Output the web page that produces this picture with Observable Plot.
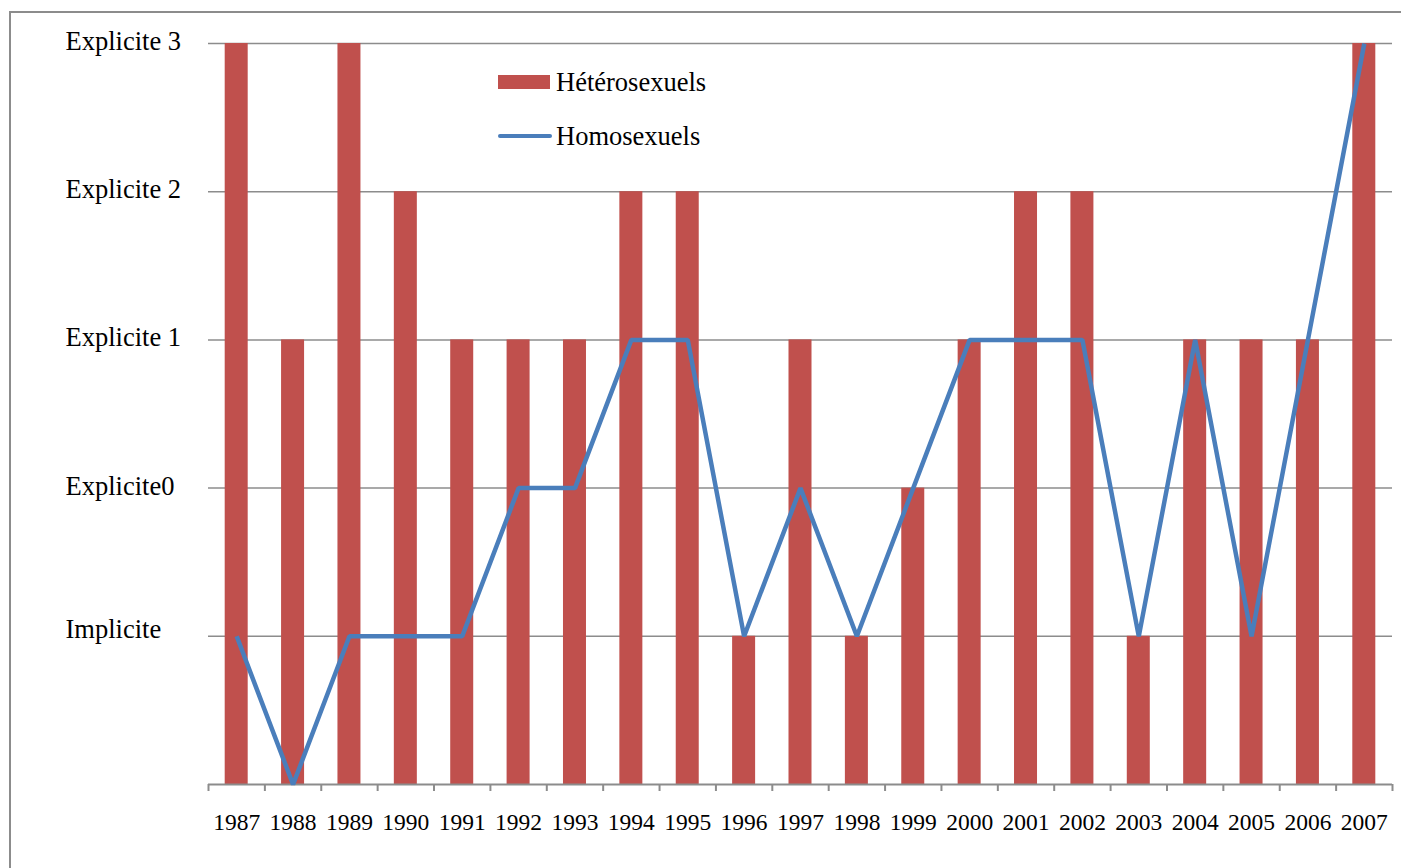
<!DOCTYPE html>
<html>
<head>
<meta charset="utf-8">
<script src="https://cdn.jsdelivr.net/npm/d3@7"></script>
<script src="https://cdn.jsdelivr.net/npm/@observablehq/plot@0.6"></script>
<style>
  html, body { margin: 0; padding: 0; background: #fff; overflow: hidden; }
  #wrap { position: relative; width: 1401px; height: 868px; }
  #border { position: absolute; left: 9px; top: 11px; width: 1500px; height: 900px; border: 2px solid #8c8c8c; box-sizing: border-box; }
  #chart { position: absolute; left: 0; top: 0; }
  .legend { position: absolute; left: 498px; font-family: "Liberation Serif", serif; font-size: 26.5px; color: #000; }
  .legend div { display: flex; align-items: center; height: 30px; }
  .sw-bar { width: 52px; height: 14px; background: #C0504D; margin-right: 6px; }
  .sw-line { width: 54px; height: 4px; background: #4A7EBB; border-radius: 2px; margin-right: 4px; }
</style>
</head>
<body>
<div id="wrap">
  <div id="border"></div>
  <div id="chart"></div>
  <div class="legend" style="top:67px"><div><span class="sw-bar"></span><span>Hétérosexuels</span></div></div>
  <div class="legend" style="top:121px"><div><span class="sw-line"></span><span>Homosexuels</span></div></div>
</div>
<script>
const years = [1987,1988,1989,1990,1991,1992,1993,1994,1995,1996,1997,1998,1999,2000,2001,2002,2003,2004,2005,2006,2007];
const hetero = [5,3,5,4,3,3,3,4,4,1,3,1,2,3,4,4,1,3,3,3,5];
const homo   = [1,0,1,1,1,2,2,3,3,1,2,1,2,3,3,3,1,3,1,3,5];
const levels = [1,2,3,4,5];
const levelLabels = ["Implicite", "Explicite0", "Explicite 1", "Explicite 2", "Explicite 3"];

const heteroData = years.map((y, i) => ({year: String(y), value: hetero[i]}));
const homoData = years.map((y, i) => ({year: String(y), value: homo[i]}));
const levelData = levels.map((v, i) => ({v, label: levelLabels[i]}));

const W = 1401, H = 868;
const mL = 208, mR = 9, mT = 43, mB = 84;
const step = (W - mL - mR) / years.length;
const barW = 23;
const inset = (step - barW) / 2;
const boundaries = years.map(String);

const chart = Plot.plot({
  width: W,
  height: H,
  marginLeft: mL,
  marginRight: mR,
  marginTop: mT,
  marginBottom: mB,
  style: {fontFamily: "Liberation Serif, serif", background: "transparent", overflow: "visible"},
  x: {type: "band", domain: years.map(String), padding: 0, round: false, axis: null},
  y: {type: "linear", domain: [0, 5], axis: null},
  marks: [
    Plot.ruleY(levels, {stroke: "#8c8c8c", strokeWidth: 1.5}),
    Plot.barY(heteroData, {x: "year", y: "value", fill: "#C0504D", insetLeft: inset, insetRight: inset}),
    Plot.ruleY([0], {stroke: "#8c8c8c", strokeWidth: 2}),
    // tick marks at band boundaries
    Plot.ruleX(boundaries, {x: d => d, y1: 0, y2: 0, insetBottom: -7, dx: -step / 2, stroke: "#8c8c8c", strokeWidth: 2}),
    Plot.ruleX([boundaries[boundaries.length - 1]], {x: d => d, y1: 0, y2: 0, insetBottom: -7, dx: step / 2, stroke: "#8c8c8c", strokeWidth: 2}),
    Plot.lineY(homoData, {x: "year", y: "value", stroke: "#4A7EBB", strokeWidth: 4.5, strokeLinejoin: "miter", strokeLinecap: "butt"}),
    Plot.text(levelData.filter(d => d.v !== 1), {y: "v", text: "label", frameAnchor: "left", dx: -143, textAnchor: "start", fontSize: 26.5, fill: "#000", dy: -2}),
    Plot.text(levelData.filter(d => d.v === 1), {y: "v", text: "label", frameAnchor: "left", dx: -143, textAnchor: "start", lineAnchor: "bottom", fontSize: 26.5, fill: "#000", dy: 2}),
    Plot.text(years.map(String), {x: d => d, y: 0, text: d => d, dy: 38, fontSize: 23.5, fill: "#000"})
  ]
});
document.getElementById("chart").appendChild(chart);
</script>
</body>
</html>
